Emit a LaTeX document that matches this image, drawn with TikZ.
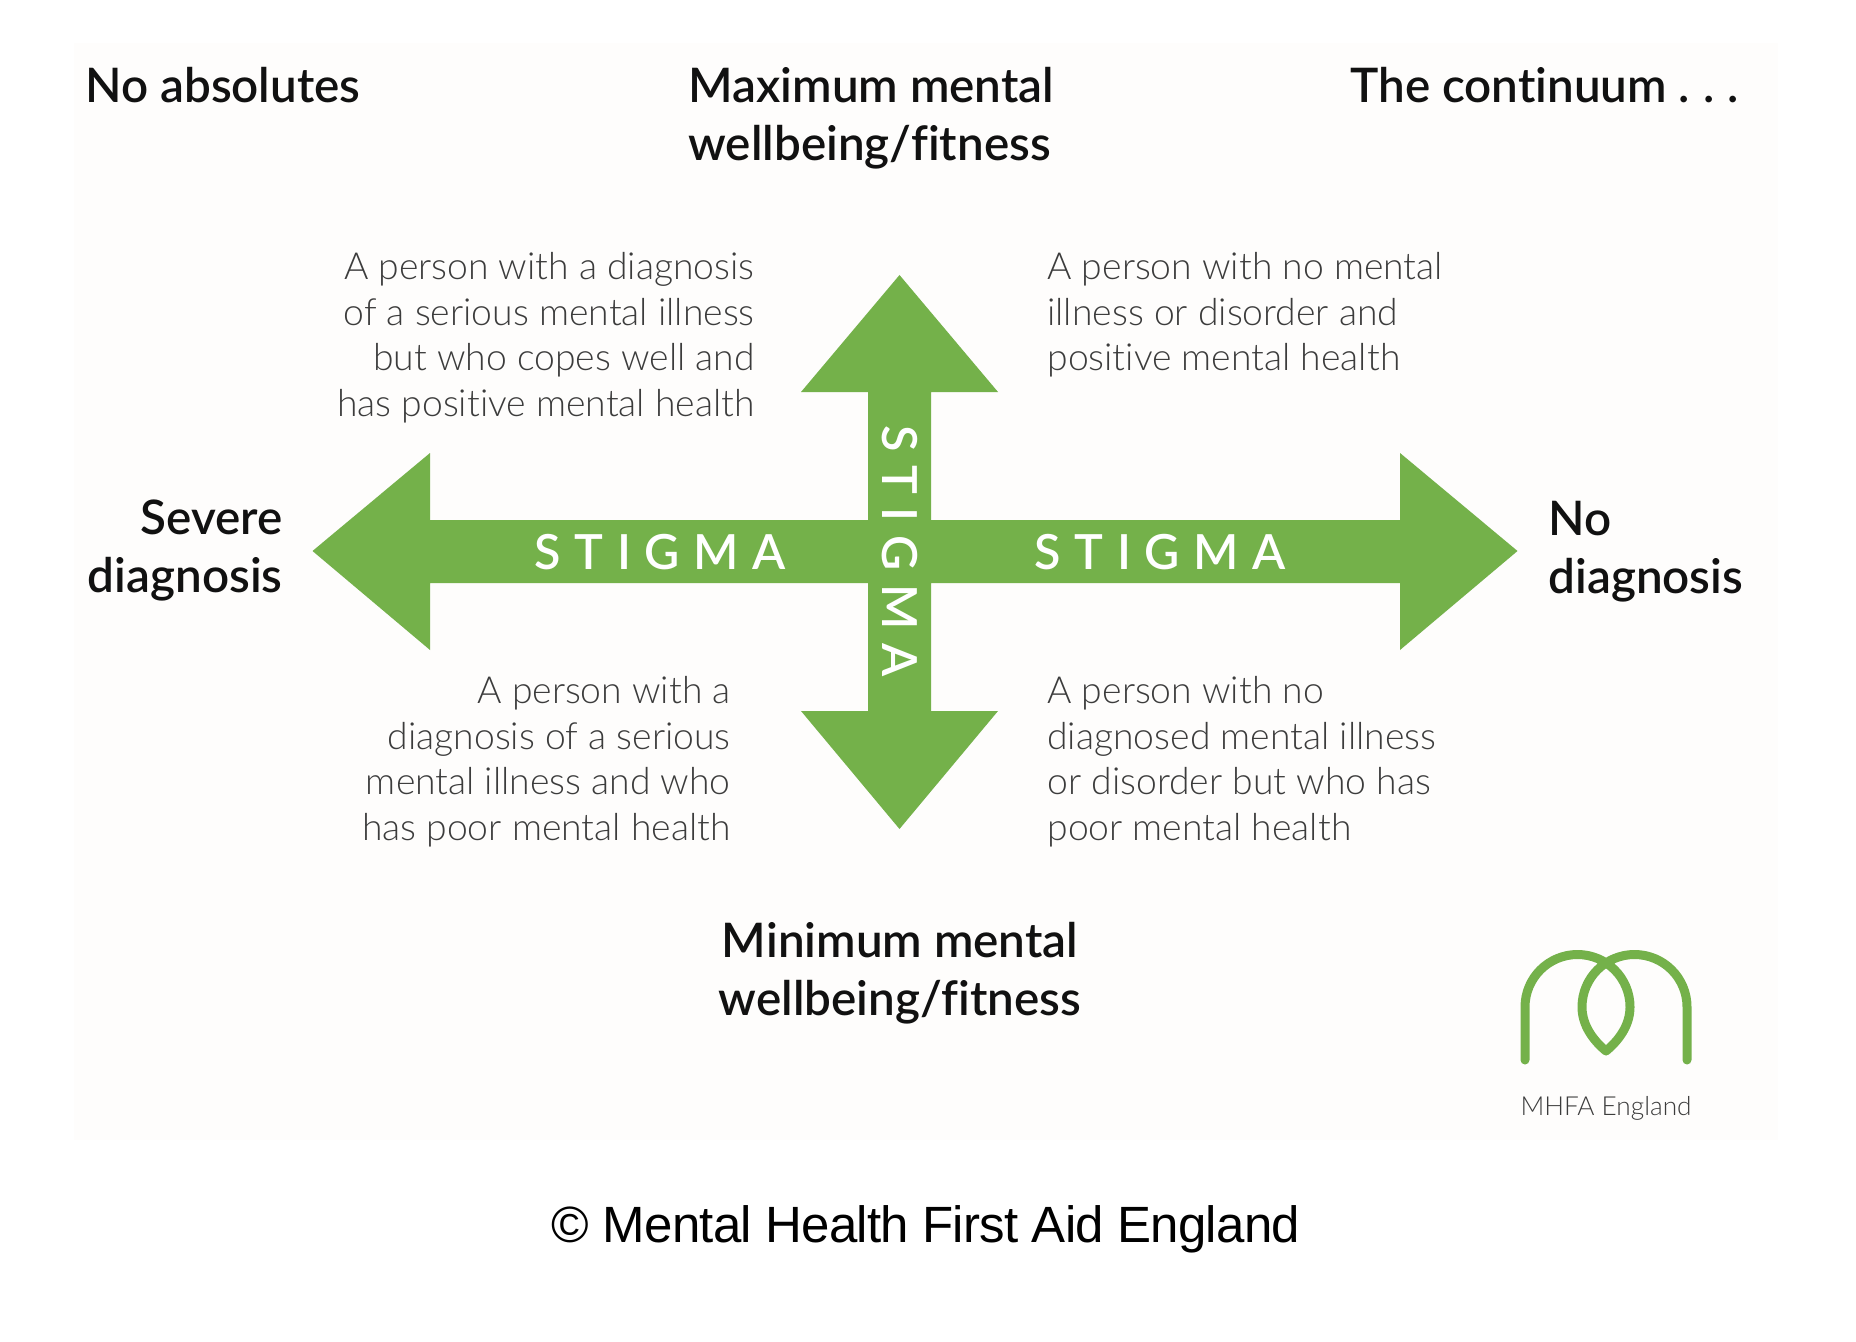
\documentclass[tikz,border=0pt]{standalone}
\usepackage{fontspec}
\setmainfont{Lato}
\newfontfamily\headfont[Ligatures=NoCommon]{Lato Semibold}
\newfontfamily\bodyfont[Ligatures=NoCommon]{Lato Light}
\newfontfamily\capfont[LetterSpace=-1.5]{Liberation Sans}
\newfontfamily\stigmafont[LetterSpace=28]{Lato Semibold}
\definecolor{mhfagreen}{HTML}{74B14A}
\definecolor{panelbg}{HTML}{FEFDFC}
\definecolor{bodygrey}{HTML}{3C3C3C}
\definecolor{headblack}{HTML}{111111}
\tikzset{
  x=0.5pt,y=-0.5pt,
  head/.style={inner sep=0pt,text=headblack,font=\headfont\fontsize{23.8}{29}\selectfont},
  body/.style={inner sep=0pt,text=bodygrey,font=\bodyfont\fontsize{18.65}{22.75}\selectfont},
  stigma/.style={inner sep=0pt,text=white,font=\stigmafont\fontsize{24.2}{26}\selectfont},
  logoline/.style={draw=mhfagreen,line width=4.5pt,line cap=round,line join=round},
}
\begin{document}
\begin{tikzpicture}
\useasboundingbox (0,0) rectangle (1856,1342);
\fill[white] (0,0) rectangle (1856,1342);
\fill[panelbg] (74,43) rectangle (1778,1140);
% cross of arrows
\fill[mhfagreen] (899.5,275) -- (998,392) -- (931,392) -- (931,520) -- (1400,520) -- (1400,453) -- (1517.5,551) -- (1400,650) -- (1400,583) -- (931,583) -- (931,711) -- (998,711) -- (899.5,829) -- (801,711) -- (868,711) -- (868,583) -- (430,583) -- (430,650) -- (312.5,551) -- (430,453) -- (430,520) -- (868,520) -- (868,392) -- (801,392) -- cycle;
\node[stigma,anchor=base] (sl) at (660,569) {STIGMA};
\node[stigma,anchor=base] (sr) at (1160,569) {STIGMA};
\node[stigma,anchor=base,rotate=-90] (sv) at (882,551) {STIGMA};
% headings
\node[head,anchor=base west] (noabs) at (85,103) {No absolutes};
\node[head,anchor=base west,align=left] (maxm) at (688,161) {Maximum mental\\wellbeing/fitness};
\node[head,anchor=base west] (cont) at (1350,103) {The continuum .\hspace{0.27em}.\hspace{0.27em}.};
\node[head,anchor=base east,align=right] (sev) at (283,592) {Severe\\diagnosis};
\node[head,anchor=base west,align=left] (nod) at (1548,593) {No\\diagnosis};
\node[head,anchor=base,align=center] (minm) at (900,1015) {Minimum mental\\wellbeing/fitness};
% quadrant texts
\node[body,anchor=base east,align=right] (tl) at (755,416) {A person with a diagnosis\\of a serious mental illness\\but who copes well and\\has positive mental health};
\node[body,anchor=base west,align=left] (tr) at (1047,371) {A person with no mental\\illness or disorder and\\positive mental health};
\node[body,anchor=base east,align=right] (bl) at (731,840) {A person with a\\diagnosis of a serious\\mental illness and who\\has poor mental health};
\node[body,anchor=base west,align=left] (br) at (1047,840) {A person with no\\diagnosed mental illness\\or disorder but who has\\poor mental health};
% logo
\draw[logoline] (1525,1060) -- (1525,1007) arc[start angle=180,end angle=360,radius=52.5] .. controls (1630,1026) and (1618,1041) .. (1606,1051) .. controls (1594,1041) and (1582,1026) .. (1582,1007) arc[start angle=180,end angle=360,radius=52.5] -- (1687,1060);
\node[inner sep=0pt,anchor=base,text=bodygrey,font=\bodyfont\fontsize{13.1}{15}\selectfont] (logo) at (1606,1115) {MHFA England};
% caption
\node[inner sep=0pt,anchor=base,text=black,font=\capfont\fontsize{25.5}{30}\selectfont] (cap) at (926,1242) {© Mental Health First Aid England};
\end{tikzpicture}
\end{document}
